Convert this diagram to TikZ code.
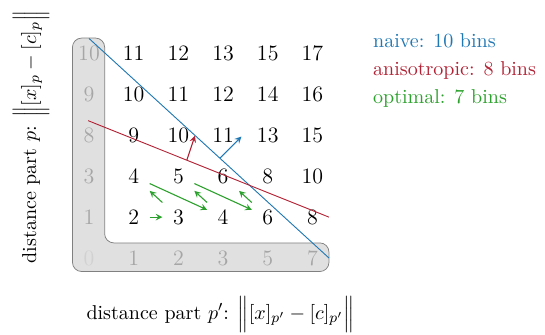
\documentclass[tikz,border=0pt,11pt]{standalone}
\usepackage{amsmath}
\usepackage{amssymb}
\usepackage{xcolor}
\usepackage{tikz}
\usetikzlibrary{arrows,positioning}

\definecolor{naiveblue}{RGB}{31,119,180}
\definecolor{anisored}{RGB}{178,34,52}
\definecolor{optgreen}{RGB}{44,160,44}

\begin{document}
\begin{tikzpicture}[x=0.858cm, y=0.785cm, >=stealth]
    % Stili dei nodi
    \tikzstyle{cell}=[minimum width=6mm, minimum height=6mm, inner sep=0pt, font=\large]
    \tikzstyle{axis}=[cell, text=black!35]
    \tikzstyle{legend}=[inner sep=0pt, anchor=base west]
    \tikzstyle{opt}=[->, optgreen, line width=0.6pt]

    \useasboundingbox (-1.709cm,-1.459cm) rectangle (8.755cm,4.954cm);

    % Sfondo a L
    \draw[black!50, fill=black!12, rounded corners=5pt] (-0.37,2) -- (-0.37,5.38) -- (0.35,5.38) -- (0.35,0.37) -- (5.37,0.37) -- (5.37,-0.33) -- (-0.37,-0.33) -- cycle;

    % Assi
    \node (y0) [axis, text=black!18] at (0,0) {0};
    \node (y1) [axis] at (0,1) {1};
    \node (y2) [axis] at (0,2) {3};
    \node (y3) [axis] at (0,3) {8};
    \node (y4) [axis] at (0,4) {9};
    \node (y5) [axis] at (0,5) {10};
    \node (x1) [axis] at (1,0) {1};
    \node (x2) [axis] at (2,0) {2};
    \node (x3) [axis] at (3,0) {3};
    \node (x4) [axis] at (4,0) {5};
    \node (x5) [axis] at (5,0) {7};

    % Celle
    \node (c11) [cell] at (1,1) {2};  \node (c21) [cell] at (2,1) {3};  \node (c31) [cell] at (3,1) {4};  \node (c41) [cell] at (4,1) {6};  \node (c51) [cell] at (5,1) {8};
    \node (c12) [cell] at (1,2) {4};  \node (c22) [cell] at (2,2) {5};  \node (c32) [cell] at (3,2) {6};  \node (c42) [cell] at (4,2) {8};  \node (c52) [cell] at (5,2) {10};
    \node (c13) [cell] at (1,3) {9};  \node (c23) [cell] at (2,3) {10}; \node (c33) [cell] at (3,3) {11}; \node (c43) [cell] at (4,3) {13}; \node (c53) [cell] at (5,3) {15};
    \node (c14) [cell] at (1,4) {10}; \node (c24) [cell] at (2,4) {11}; \node (c34) [cell] at (3,4) {12}; \node (c44) [cell] at (4,4) {14}; \node (c54) [cell] at (5,4) {16};
    \node (c15) [cell] at (1,5) {11}; \node (c25) [cell] at (2,5) {12}; \node (c35) [cell] at (3,5) {13}; \node (c45) [cell] at (4,5) {15}; \node (c55) [cell] at (5,5) {17};

    % Soglie
    \draw[naiveblue, line width=0.5pt] (0,5.37) -- (5.37,0);
    \draw[->, naiveblue, line width=0.6pt] (2.93,2.44) -- (3.41,2.97);
    \draw[anisored, line width=0.5pt] (-0.02,3.36) -- (5.37,1.0);
    \draw[->, anisored, line width=0.6pt] (2.19,2.40) -- (2.37,2.99);

    % Percorso ottimale
    \draw[opt] (c11) -- (c21);
    \draw[opt] (c21) -- (c12);
    \draw[opt] (c12) -- (c31);
    \draw[opt] (c31) -- (c22);
    \draw[opt] (c22) -- (c41);
    \draw[opt] (c41) -- (c32);

    % Legenda
    \node (leg-naive) [legend, text=naiveblue] at (6.35,5.15) {naive: 10 bins};
    \node (leg-aniso) [legend, text=anisored, below=15.3pt of leg-naive.base west, anchor=base west] {anisotropic: 8 bins};
    \node (leg-opt) [legend, text=optgreen, below=15.3pt of leg-aniso.base west, anchor=base west] {optimal: 7 bins};

    % Etichette degli assi
    \node (lab-p) [rotate=90, anchor=base] at (-1.186,2.96) {distance part $p$: $\Big\|[x]_p - [c]_p\Big\|$};
    \node (lab-q) [anchor=base] at (2.94,-1.495) {distance part $p'$: $\Big\|[x]_{p'} - [c]_{p'}\Big\|$};
\end{tikzpicture}
\end{document}
